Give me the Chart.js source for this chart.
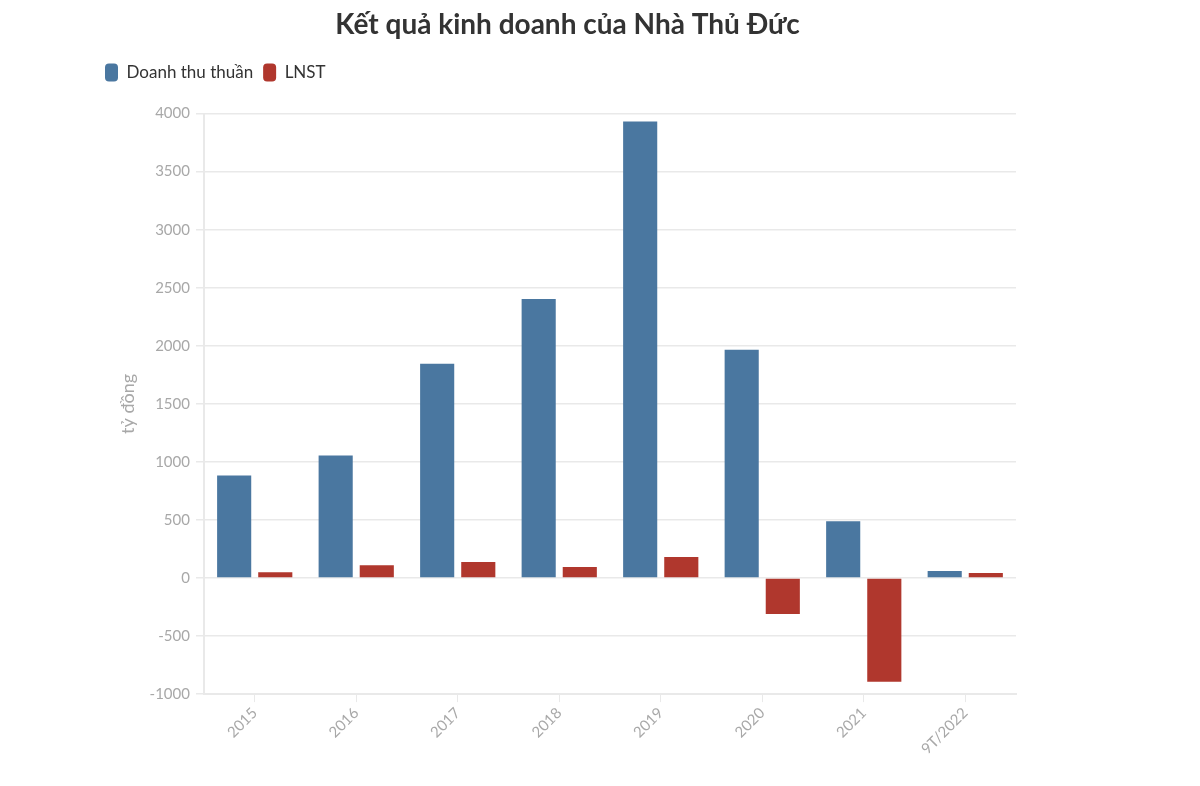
<!DOCTYPE html>
<html lang="vi">
<head>
<meta charset="utf-8">
<title>Kết quả kinh doanh của Nhà Thủ Đức</title>
<script src="https://cdn.jsdelivr.net/npm/chart.js@4"></script>
<style>
    html, body { margin: 0; padding: 0; background: #fff; }
    #wrap { width: 1200px; height: 786px; position: relative; }
</style>
</head>
<body>
<div id="wrap"><canvas id="grafico"></canvas></div>
<script>
// Dados (tỷ đồng)
const nam = ['2015', '2016', '2017', '2018', '2019', '2020', '2021', '9T/2022'];
const doanhThu = [884, 1056, 1845, 2403, 3931, 1966, 489, 60];
const lnst = [50, 110, 137, 94, 180, -309, -893, 43];
const ticksY = { min: -1000, max: 4000, step: 500 };

const fonte = 'Lato, "Open Sans", sans-serif';
const cinzaGrade = '#e9e9e9';
const cinzaTexto = '#a8a8a8';

// Espaço extra abaixo da legenda e ajuste do título
const ajusteLayout = {
    id: 'ajusteLayout',
    beforeInit(chart) {
        const fitOriginal = chart.legend.fit;
        chart.legend.fit = function() {
            fitOriginal.bind(chart.legend)();
            this.height += 22;
        };
    },
    afterLayout(chart) {
        chart.titleBlock.left += 24;
    }
};

new Chart(document.getElementById('grafico'), {
    type: 'bar',
    data: {
        labels: nam,
        datasets: [{
            label: 'Doanh thu thuần',
            data: doanhThu,
            backgroundColor: '#4a77a0'
        }, {
            label: 'LNST',
            data: lnst,
            backgroundColor: '#b0372d'
        }]
    },
    plugins: [ajusteLayout],
    options: {
        responsive: true,
        maintainAspectRatio: false,
        animation: false,
        datasets: {
            bar: { categoryPercentage: 0.81, barPercentage: 0.83 }
        },
        layout: {
            padding: { left: 95, right: 184, top: 6, bottom: 26 }
        },
        plugins: {
            title: {
                display: true,
                text: 'Kết quả kinh doanh của Nhà Thủ Đức',
                color: '#333',
                font: { family: fonte, size: 28, weight: 'bold' },
                padding: { top: 2, bottom: 12 }
            },
            legend: {
                align: 'start',
                labels: {
                    color: '#333',
                    font: { family: fonte, size: 17 },
                    boxWidth: 13,
                    boxHeight: 18,
                    useBorderRadius: true,
                    borderRadius: 4,
                    padding: 10
                }
            },
            tooltip: { enabled: false }
        },
        scales: {
            x: {
                grid: {
                    offset: false,
                    drawOnChartArea: false,
                    drawTicks: true,
                    tickLength: 8,
                    color: cinzaGrade
                },
                border: { color: cinzaGrade, width: 2 },
                ticks: {
                    color: cinzaTexto,
                    font: { family: fonte, size: 15 },
                    minRotation: 45,
                    maxRotation: 45,
                    padding: 2
                }
            },
            y: {
                min: ticksY.min,
                max: ticksY.max,
                grid: {
                    color: cinzaGrade,
                    lineWidth: 1.5,
                    tickLength: 8
                },
                border: { color: cinzaGrade, width: 2 },
                ticks: {
                    stepSize: ticksY.step,
                    color: cinzaTexto,
                    font: { family: fonte, size: 15 },
                    padding: 6,
                    callback: v => String(v)
                },
                title: {
                    display: true,
                    text: 'tỷ đồng',
                    color: cinzaTexto,
                    font: { family: fonte, size: 18 },
                    padding: { top: 22, bottom: 5 }
                }
            }
        }
    }
});
</script>
</body>
</html>
